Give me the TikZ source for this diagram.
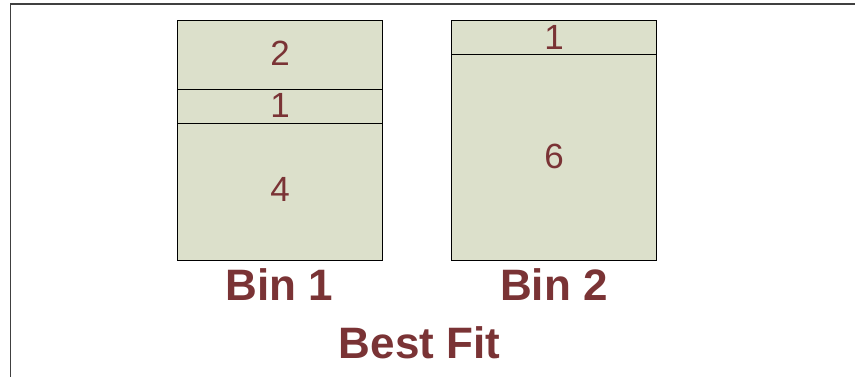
\documentclass[tikz,border=0pt]{standalone}
\usepackage{fontspec}
\setmainfont{Liberation Sans}
\definecolor{binfill}{HTML}{DCE0CB}
\definecolor{maroon}{HTML}{7A3335}
\begin{document}
\begin{tikzpicture}[x=1pt,y=-1pt,
  binpart/.style={draw=black,line width=0.9pt,fill=binfill},
  num/.style={text=maroon,font=\fontsize{35}{35}\selectfont,inner sep=0pt},
  biglabel/.style={text=maroon,font=\bfseries\fontsize{44}{44}\selectfont,inner sep=0pt,anchor=base}]
\useasboundingbox (0,0) rectangle (855,377);
\draw[line width=1.4pt,draw=black!75] (10.7,377) -- (10.7,3.9) -- (855,3.9);
% Bin 1
\path[binpart] (177.3,20.7) rectangle (382.7,89.3) coordinate (b1a);
\path[binpart] (177.3,89.3) rectangle (382.7,123.7);
\path[binpart] (177.3,123.7) rectangle (382.7,260);
\node[num] (n2) at (280,53.2) {2};
\node[num] (n1a) at (280,105.5) {1};
\node[num] (n4) at (280,189.3) {4};
% Bin 2
\path[binpart] (451,20.7) rectangle (656.7,54.3);
\path[binpart] (451,54.3) rectangle (656.7,260);
\node[num] (n1b) at (554,37.2) {1};
\node[num] (n6) at (554,156) {6};
% labels
\node[biglabel] (bin1) at (279.5,300) {Bin 1};
\node[biglabel] (bin2) at (554,300) {Bin 2};
\node[biglabel] (bf) at (419.5,358.3) {Best Fit};
\end{tikzpicture}
\end{document}
